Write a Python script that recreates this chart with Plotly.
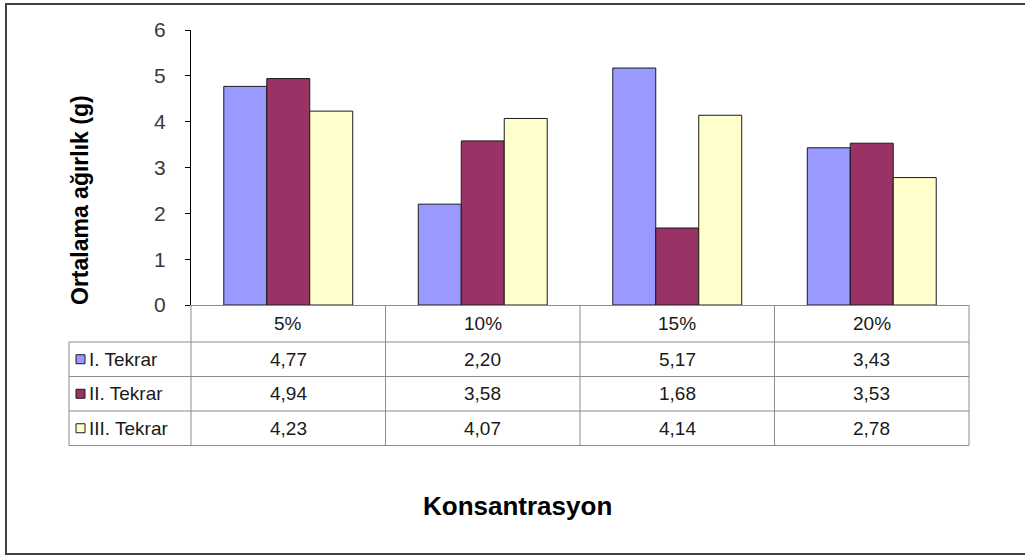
import plotly.graph_objects as go

# Data
categories = ["5%", "10%", "15%", "20%"]
series_names = ["I. Tekrar", "II. Tekrar", "III. Tekrar"]
tekrar_1 = [4.77, 2.20, 5.17, 3.43]
tekrar_2 = [4.94, 3.58, 1.68, 3.53]
tekrar_3 = [4.23, 4.07, 4.14, 2.78]
series_values = [tekrar_1, tekrar_2, tekrar_3]
colors = ["#9999FF", "#993366", "#FFFFCC"]

y_ticks = [0, 1, 2, 3, 4, 5, 6]
y_title = "Ortalama ağırlık (g)"
x_title = "Konsantrasyon"

# Canvas and plot-area geometry (pixels)
W_PX, H_PX = 1025, 556
PL, PR, PT, PB = 191, 969, 30, 305
PW, PH = PR - PL, PB - PT

FONT = "Liberation Sans, Arial, sans-serif"
GRID = "#8c8c8c"
TXT = "#1a1a1a"


def px(x):
    return (x - PL) / PW


def py(y):
    return (PB - y) / PH


fig = go.Figure()
for name, vals, col in zip(series_names, series_values, colors):
    fig.add_trace(go.Bar(
        x=categories, y=vals, name=name,
        marker=dict(color=col, line=dict(color="#1a1a1a", width=1)),
    ))

shapes = []
annotations = []


def label(x, y, text, size, xanchor="center", bold=False, angle=0, color=TXT):
    annotations.append(dict(
        xref="paper", yref="paper", x=x, y=y, xanchor=xanchor, yanchor="middle",
        text=f"<b>{text}</b>" if bold else text, textangle=angle, showarrow=False,
        font=dict(family=FONT, size=size, color=color)))


# Data table below the axis
row_h = 34.5
header_top = PB
header_bot = PB + 37
row_edges = [header_bot + i * row_h for i in range(len(series_names) + 1)]
legend_left = 69
n = len(categories)

# vertical lines at category boundaries
for i in range(n + 1):
    shapes.append(dict(type="line", xref="paper", yref="paper",
                       x0=i / n, x1=i / n, y0=py(header_top), y1=py(row_edges[-1]),
                       line=dict(color=GRID, width=1)))
# left edge of the legend column
shapes.append(dict(type="line", xref="paper", yref="paper",
                   x0=px(legend_left), x1=px(legend_left),
                   y0=py(row_edges[0]), y1=py(row_edges[-1]),
                   line=dict(color=GRID, width=1)))
# horizontal row lines
for yy in row_edges:
    shapes.append(dict(type="line", xref="paper", yref="paper",
                       x0=px(legend_left), x1=1, y0=py(yy), y1=py(yy),
                       line=dict(color=GRID, width=1)))

# header cells
for i, c in enumerate(categories):
    label((i + 0.5) / n, py((header_top + header_bot) / 2), c, 19)

# value cells and legend keys
for r, (name, vals, col) in enumerate(zip(series_names, series_values, colors)):
    yc = (row_edges[r] + row_edges[r + 1]) / 2
    for i, v in enumerate(vals):
        label((i + 0.5) / n, py(yc), f"{v:.2f}".replace(".", ","), 19)
    shapes.append(dict(type="rect", xref="paper", yref="paper",
                       x0=px(76), x1=px(85), y0=py(yc - 4.5), y1=py(yc + 4.5),
                       fillcolor=col, line=dict(color="#1a1a1a", width=1)))
    label(px(87), py(yc), name, 19, xanchor="left")

# outer chart border
shapes.append(dict(type="rect", xref="paper", yref="paper",
                   x0=px(6), x1=px(1030), y0=py(4), y1=py(554),
                   line=dict(color="#404040", width=2), fillcolor="rgba(0,0,0,0)",
                   layer="below"))

# axis titles
label(px(80), py(200), y_title, 23, bold=True, angle=-90, color="#000")
label(px(517), py(506), x_title, 26, bold=True, color="#000")

fig.update_layout(
    width=W_PX, height=H_PX,
    margin=dict(l=PL, r=W_PX - PR, t=PT, b=H_PX - PB, pad=0),
    paper_bgcolor="white", plot_bgcolor="white",
    barmode="group", bargap=0.337, bargroupgap=0,
    showlegend=False,
    shapes=shapes, annotations=annotations,
    xaxis=dict(showticklabels=False, showline=True, linecolor=GRID, linewidth=1,
               ticks="", showgrid=False, zeroline=False, fixedrange=True),
    yaxis=dict(range=[0, 6], tickvals=y_ticks, showline=True, linecolor="#000",
               linewidth=1, ticks="outside", ticklen=5, tickcolor="#000",
               showgrid=False, zeroline=False, ticklabelstandoff=15,
               tickfont=dict(family=FONT, size=21, color="#3a3a3a")),
)

fig.write_html("out.html")
